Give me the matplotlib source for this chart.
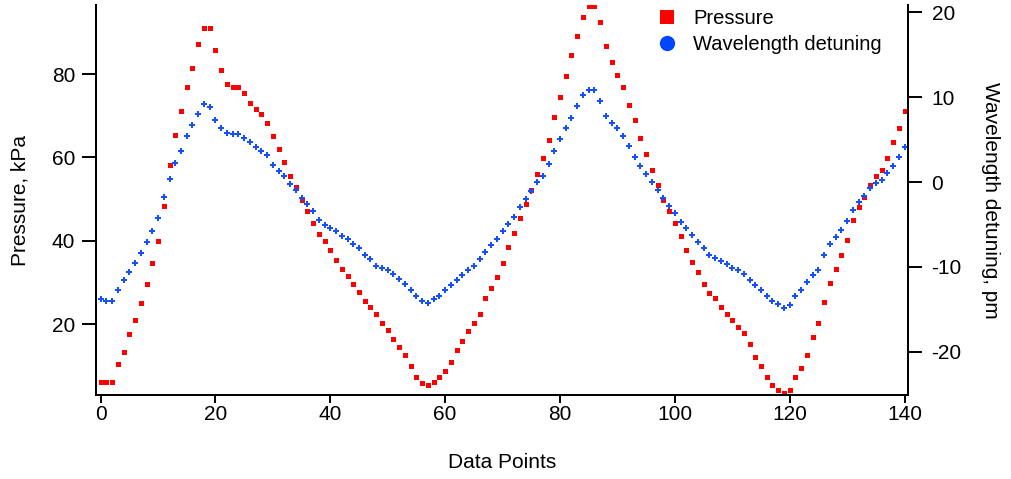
import numpy as np
import matplotlib
matplotlib.use("Agg")
import matplotlib.pyplot as plt
from matplotlib.lines import Line2D

plt.rcParams['font.family'] = ['Liberation Sans', 'DejaVu Sans']
plt.rcParams['axes.unicode_minus'] = False

# pressure readings, kPa (left axis)
pressure = [6.2, 6.2, 6.2, 10.3, 13.4, 17.5, 21.0, 25.1, 29.7, 34.6,
            40.0, 48.4, 58.2, 65.5, 71.2, 77.0, 81.5, 87.2, 91.0, 91.0,
            85.7, 81.1, 77.7, 77.0, 77.0, 75.4, 73.1, 71.6, 70.5, 68.2,
            65.1, 62.1, 59.0, 55.6, 52.9, 49.8, 47.2, 44.2, 41.5, 40.0,
            37.7, 35.4, 33.1, 31.6, 29.7, 27.8, 25.5, 24.0, 22.5, 20.2,
            18.6, 16.4, 14.5, 12.6, 9.9, 7.3, 5.8, 5.4, 6.2, 7.3,
            8.8, 11.0, 13.8, 16.0, 18.3, 20.2, 22.5, 26.3, 28.6, 31.3,
            34.6, 38.5, 41.9, 45.4, 48.7, 52.2, 56.0, 59.8, 64.3, 69.7,
            74.6, 79.6, 84.6, 89.1, 93.7, 96.3, 96.3, 92.5, 86.8, 82.9,
            79.9, 76.9, 72.7, 69.0, 64.7, 60.9, 57.1, 53.3, 49.8, 47.2,
            44.2, 41.1, 37.8, 35.0, 32.4, 29.7, 27.4, 26.3, 24.0, 22.5,
            21.0, 19.4, 17.9, 15.3, 12.2, 9.9, 7.3, 5.4, 4.2, 3.4,
            4.2, 7.3, 9.5, 12.6, 16.8, 20.2, 25.2, 29.8, 33.2, 36.6,
            40.1, 45.0, 48.0, 50.6, 53.4, 55.6, 57.1, 59.8, 63.6, 67.0,
            71.2]

# wavelength detuning, pm (right axis)
detuning = [-13.8, -14.0, -14.0, -12.7, -11.6, -10.6, -9.5, -8.4, -7.1, -5.8,
            -4.3, -1.8, 0.35, 2.2, 3.7, 5.4, 6.7, 8.0, 9.2, 8.8,
            7.3, 6.4, 5.8, 5.6, 5.6, 5.2, 4.7, 4.1, 3.7, 3.2,
            2.0, 1.3, 0.75, -0.2, -0.94, -1.9, -2.6, -3.4, -4.5, -5.1,
            -5.4, -5.8, -6.4, -6.7, -7.3, -7.8, -8.6, -9.1, -9.9, -10.1,
            -10.4, -10.8, -11.4, -12.0, -12.7, -13.4, -14.0, -14.2, -13.8, -13.4,
            -12.7, -12.1, -11.6, -11.0, -10.4, -9.9, -9.1, -8.2, -7.45, -6.7,
            -5.8, -5.0, -4.1, -3.0, -2.0, -1.1, 0.0, 0.75, 2.1, 3.6,
            5.1, 6.35, 7.5, 9.0, 10.3, 10.9, 10.9, 9.5, 7.8, 6.9,
            6.35, 5.4, 4.3, 3.0, 1.9, 0.9, 0.0, -0.94, -1.9, -2.8,
            -3.7, -4.7, -5.4, -6.2, -7.1, -7.8, -8.6, -8.9, -9.3, -9.7,
            -10.1, -10.4, -10.8, -11.6, -12.1, -12.7, -13.4, -14.0, -14.35, -14.9,
            -14.55, -13.4, -12.7, -11.8, -11.0, -10.4, -8.6, -7.3, -6.5, -5.6,
            -4.6, -3.3, -2.4, -1.65, -0.7, -0.15, 0.24, 1.1, 1.9, 3.0,
            4.15]

points = np.arange(len(pressure))

x_ticks = [0, 20, 40, 60, 80, 100, 120, 140]
left_ticks = [20, 40, 60, 80]
right_ticks = [-20, -10, 0, 10, 20]

red = '#ff0000'
blue = '#1450ff'

fig = plt.figure(figsize=[10.11, 4.79], dpi=100)
ax = fig.add_axes([96/1011, 84/479, 812/1011, 390/479])
ax2 = ax.twinx()

ax.plot(points, pressure, 's', color=red, markersize=3.6, markeredgewidth=0)
ax2.plot(points, detuning, 'P', color=blue, markersize=4.6, markeredgewidth=0)

ax.set_xlim(-0.8, 140.6)
ax.set_ylim(2.96, 96.6)
ax2.set_ylim(-25.1, 20.86)

# Igor-like axes: no top frame, ticks outside
for a in (ax, ax2):
    a.spines['top'].set_visible(False)
    for s in ('left', 'right', 'bottom'):
        a.spines[s].set_linewidth(1.4)

ax.set_xticks(x_ticks)
ax.set_yticks(left_ticks)
ax2.set_yticks(right_ticks)

ax.tick_params(axis='x', direction='out', length=6, width=1.4, pad=1, labelsize=15)
ax.tick_params(axis='y', direction='out', length=10, width=1.4, pad=5, labelsize=15)
ax2.tick_params(axis='y', direction='out', length=10, width=1.4, pad=7, labelsize=15)

ax.set_xlabel('Data Points', fontsize=15, va='center')
ax.xaxis.set_label_coords(0.5, -0.174)
ax.set_ylabel('Pressure, kPa', fontsize=15, va='center')
ax.yaxis.set_label_coords(-0.0936, 0.5)
ax2.set_ylabel('Wavelength detuning, pm', fontsize=15, rotation=270, va='center')
ax2.yaxis.set_label_coords(1.102, 0.5)

# legend uses bigger symbols than the data markers
handles = [Line2D([], [], linestyle='none', marker='s', color=red, markersize=10.5, markeredgewidth=0),
           Line2D([], [], linestyle='none', marker='o', color='#0044ff', markersize=11, markeredgewidth=0)]
fig.legend(handles, ['Pressure', 'Wavelength detuning'], loc='upper left',
           bbox_to_anchor=(657/1011, 0.982), frameon=False, fontsize=14.5,
           handlelength=1.0, handletextpad=0.8, labelspacing=0.35, borderpad=0, borderaxespad=0)

fig.savefig('out.png', dpi=100)
